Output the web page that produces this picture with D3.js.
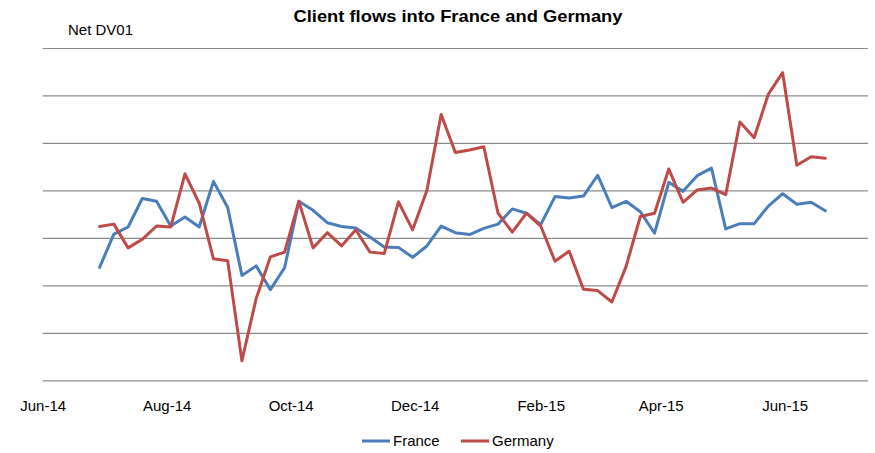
<!DOCTYPE html>
<html>
<head>
<meta charset="utf-8">
<script src="https://cdn.jsdelivr.net/npm/d3@7"></script>
<style>
  html, body { margin: 0; padding: 0; background: #ffffff; }
  svg { display: block; font-family: "Liberation Sans", Arial, sans-serif; }
</style>
</head>
<body>
<svg id="chart" width="875" height="453"></svg>
<script>
// ---- Data ----
const dates = [
  "2014-06-29","2014-07-06","2014-07-13","2014-07-20","2014-07-27",
  "2014-08-03","2014-08-10","2014-08-17","2014-08-24","2014-08-31",
  "2014-09-07","2014-09-14","2014-09-21","2014-09-28",
  "2014-10-05","2014-10-12","2014-10-19","2014-10-26",
  "2014-11-02","2014-11-09","2014-11-16","2014-11-23","2014-11-30",
  "2014-12-07","2014-12-14","2014-12-21","2014-12-28",
  "2015-01-04","2015-01-11","2015-01-18","2015-01-25",
  "2015-02-01","2015-02-08","2015-02-15","2015-02-22",
  "2015-03-01","2015-03-08","2015-03-15","2015-03-22","2015-03-29",
  "2015-04-05","2015-04-12","2015-04-19","2015-04-26",
  "2015-05-03","2015-05-10","2015-05-17","2015-05-24","2015-05-31",
  "2015-06-07","2015-06-14","2015-06-21"
];
const france = [
  -0.62, 0.08, 0.23, 0.83, 0.77, 0.25, 0.44, 0.23, 1.19, 0.64,
  -0.79, -0.59, -1.09, -0.63, 0.77, 0.58, 0.32, 0.24, 0.21, 0.02,
  -0.19, -0.20, -0.41, -0.17, 0.25, 0.11, 0.07, 0.20, 0.29, 0.61,
  0.52, 0.28, 0.87, 0.84, 0.88, 1.32, 0.64, 0.77, 0.55, 0.10,
  1.17, 0.98, 1.31, 1.47, 0.19, 0.30, 0.30, 0.67, 0.93, 0.71,
  0.75, 0.57
];
const germany = [
  0.24, 0.29, -0.21, -0.03, 0.25, 0.23, 1.35, 0.73, -0.44, -0.48,
  -2.59, -1.28, -0.40, -0.30, 0.77, -0.21, 0.11, -0.17, 0.17, -0.30,
  -0.33, 0.76, 0.17, 1.00, 2.60, 1.80, 1.85, 1.92, 0.52, 0.12,
  0.52, 0.25, -0.49, -0.28, -1.08, -1.11, -1.35, -0.60, 0.45, 0.52,
  1.45, 0.75, 1.01, 1.05, 0.91, 2.44, 2.11, 3.03, 3.48, 1.53,
  1.71, 1.68
];
const seriesNames = ["France", "Germany"];
const seriesColors = ["#4a7ebb", "#be4b48"];
const tickDates = ["2014-06-01","2014-08-01","2014-10-01","2014-12-01","2015-02-01","2015-04-01","2015-06-01"];
const tickLabels = ["Jun-14","Aug-14","Oct-14","Dec-14","Feb-15","Apr-15","Jun-15"];
const yTicks = [-3, -2, -1, 0, 1, 2, 3, 4];
const titleText = "Client flows into France and Germany";
const yAxisLabel = "Net DV01";

// ---- Chart ----
(function () {
const parse = d3.utcParse("%Y-%m-%d");
const svg = d3.select("#chart");

const pLeft = 42.7, pRight = 868, pTop = 48, pBottom = 380.3;

const x = d3.scaleUtc()
  .domain([parse("2014-06-01"), parse("2015-07-12")])
  .range([pLeft, pRight]);
const y = d3.scaleLinear()
  .domain([-3, 4])
  .range([pBottom, pTop]);

// gridlines
const grid = svg.append("g")
  .attr("transform", `translate(${pLeft},0)`)
  .call(d3.axisLeft(y).tickValues(yTicks).tickSize(-(pRight - pLeft)).tickFormat(""));
grid.select(".domain").remove();
grid.selectAll("line").attr("stroke", "#8c8c8c").attr("stroke-width", 1.2);

// x axis labels
const xAxis = svg.append("g")
  .attr("transform", `translate(0,${pBottom})`)
  .call(d3.axisBottom(x)
    .tickValues(tickDates.map(parse))
    .tickFormat((d, i) => tickLabels[i])
    .tickSize(0)
    .tickPadding(20));
xAxis.select(".domain").remove();
xAxis.selectAll("text")
  .attr("font-family", "'Liberation Sans', Arial, sans-serif")
  .attr("font-size", 15)
  .attr("fill", "#000");

// lines
const pts = dates.map(parse);
const line = d3.line()
  .x((d, i) => x(pts[i]))
  .y(d => y(d));

[france, germany].forEach((vals, k) => {
  svg.append("path")
    .datum(vals)
    .attr("fill", "none")
    .attr("stroke", seriesColors[k])
    .attr("stroke-width", 3)
    .attr("stroke-linejoin", "round")
    .attr("stroke-linecap", "round")
    .attr("d", line);
});

// title
svg.append("text")
  .attr("x", 458)
  .attr("y", 22)
  .attr("text-anchor", "middle")
  .attr("font-size", 17)
  .attr("font-weight", "bold")
  .attr("textLength", 329)
  .attr("lengthAdjust", "spacingAndGlyphs")
  .text(titleText);

// y label
svg.append("text")
  .attr("x", 68)
  .attr("y", 35)
  .attr("font-size", 15)
  .text(yAxisLabel);

// legend
const legendItems = [
  { name: seriesNames[0], color: seriesColors[0], x: 362 },
  { name: seriesNames[1], color: seriesColors[1], x: 461 }
];
const lg = svg.append("g");
legendItems.forEach(it => {
  lg.append("line")
    .attr("x1", it.x).attr("x2", it.x + 28)
    .attr("y1", 441).attr("y2", 441)
    .attr("stroke", it.color).attr("stroke-width", 3);
  lg.append("text")
    .attr("x", it.x + 31)
    .attr("y", 446)
    .attr("font-size", 15)
    .text(it.name);
});
})();
</script>
</body>
</html>
